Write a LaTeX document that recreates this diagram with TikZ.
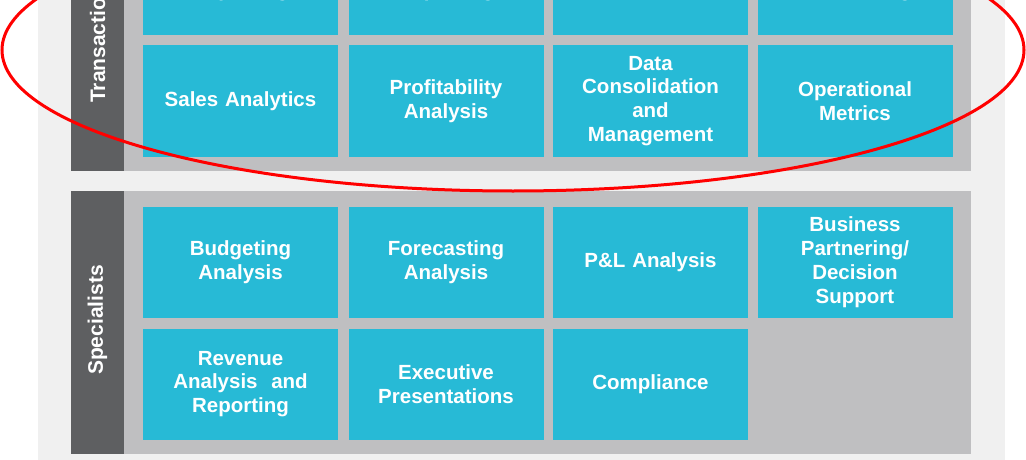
\documentclass[tikz,border=0pt]{standalone}
\usepackage{fontspec}
\setmainfont{Liberation Sans}
\definecolor{cyanbox}{HTML}{27BAD6}
\definecolor{sectiongray}{HTML}{BFBFC1}
\definecolor{bandgray}{HTML}{5E5F61}
\definecolor{panelgray}{HTML}{F0F0F0}
\definecolor{ringred}{HTML}{FF0000}
\tikzset{
  cell/.style={fill=cyanbox, text=white, font=\bfseries\fontsize{20.5}{23.8}\selectfont,
    align=center, minimum width=195pt, minimum height=111pt, inner sep=0pt, text width=192pt},
  celltext/.style={text=white, font=\bfseries\fontsize{20.5}{23.8}\selectfont, inner sep=0pt},
  bandlabel/.style={text=white, font=\bfseries\fontsize{21}{24}\selectfont, rotate=90, inner sep=0pt},
  ring/.style={draw=ringred, line width=3pt}
}
\begin{document}
\begin{tikzpicture}[x=1pt,y=-1pt]
\useasboundingbox (0,0) rectangle (1026,460);
\clip (0,0) rectangle (1026,460);
% panel
\fill[panelgray] (38,0) rectangle (1005,460);
% top section
\fill[bandgray] (71,-120) rectangle (124,171);
\fill[sectiongray] (124,-120) rectangle (971,171);
% bottom section
\fill[bandgray] (71,191) rectangle (124,454);
\fill[sectiongray] (124,191) rectangle (971,454);
% labels
\node[bandlabel, anchor=west] (lt) at (97.5,103) {Transactional};
\node[bandlabel] (ls) at (97.5,320) {Specialists};
% top section row 1 (cut off at the top edge)
\node[cell] (t11) at (240.5,-20.5) {};
\node[cell] (t12) at (446,-20.5) {};
\node[cell] (t13) at (650.5,-20.5) {};
\node[cell] (t14) at (855,-20.5) {};
\node[celltext, anchor=base] (t11a) at (240.5,-27) {Financial};
\node[celltext, anchor=base] (t11b) at (240.5,-3) {Reporting};
\node[celltext, anchor=base] (t12a) at (446,-27) {Management};
\node[celltext, anchor=base] (t12b) at (446,-3) {Reporting};
\node[celltext, anchor=base] (t14a) at (855,-27) {Cost};
\node[celltext, anchor=base] (t14b) at (855,-3) {Accounting};
% top section row 2
\node[cell] (t21) at (240.5,101) {Sales Analytics};
\node[cell] (t22) at (446,101) {Profitability\\Analysis};
\node[cell] (t23) at (650.5,101) {Data\\Consolidation\\and\\Management};
\node[cell] (t24) at (855,101) {Operational\\Metrics};
% bottom section row 1
\node[cell] (b11) at (240.5,262) {Budgeting\\Analysis};
\node[cell] (b12) at (446,262) {Forecasting\\Analysis};
\node[cell] (b13) at (650.5,262) {P\&L Analysis};
\node[cell] (b14) at (855,262) {Business\\Partnering/\\Decision\\Support};
% bottom section row 2
\node[cell] (b21) at (240.5,384) {Revenue\\Analysis\ \ and\\Reporting};
\node[cell] (b22) at (446,384) {Executive\\Presentations};
\node[cell] (b23) at (650.5,384) {Compliance};
% red ring
\draw[ring] (513,50) ellipse [x radius=511, y radius=141];
\end{tikzpicture}
\end{document}
